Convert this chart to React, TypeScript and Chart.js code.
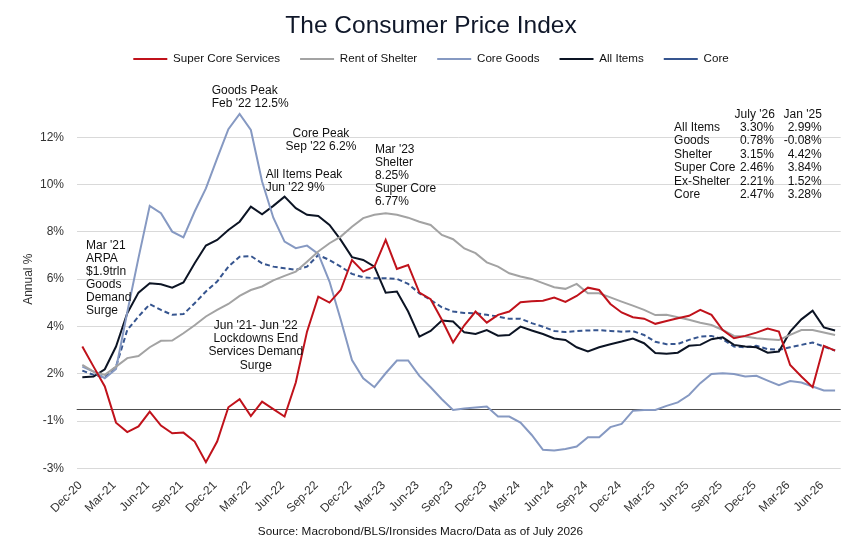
import React, { useEffect, useRef } from 'react';
import { Chart, registerables } from 'chart.js';

Chart.register(...registerables);

// ---------- data ----------
const MONTH_ABBR = ['Jan', 'Feb', 'Mar', 'Apr', 'May', 'Jun', 'Jul', 'Aug', 'Sep', 'Oct', 'Nov', 'Dec'];
const FIRST_YEAR = 2020;
const FIRST_MONTH = 11; // Dec
const LABEL_STEP = 3;

const SUPER_CORE = [
  3.15, 2.3, 1.46, -0.07, -0.47, -0.23, 0.4, -0.19, -0.52, -0.49,
  -0.87, -1.74, -0.87, 0.58, 0.92, 0.21, 0.82, 0.5, 0.19, 1.63,
  3.78, 5.26, 5.01, 5.54, 6.81, 6.32, 6.53, 7.66, 6.43, 6.6,
  5.43, 5.15, 4.28, 3.32, 4.05, 4.63, 4.16, 4.49, 4.63, 5.02,
  5.07, 5.09, 5.22, 5.04, 5.29, 5.64, 5.54, 4.95, 4.59, 4.39,
  4.33, 4.11, 4.23, 4.35, 4.45, 4.7, 4.49, 3.85, 3.5, 3.6,
  3.74, 3.91, 3.78, 2.37, 1.88, 1.43, 3.18, 2.98,
];
const RENT_OF_SHELTER = [
  2.37, 2.09, 1.95, 2.3, 2.66, 2.75, 3.12, 3.39, 3.4, 3.71,
  4.05, 4.42, 4.7, 4.95, 5.29, 5.54, 5.69, 5.95, 6.14, 6.32,
  6.74, 7.17, 7.52, 7.8, 8.22, 8.58, 8.72, 8.79, 8.72, 8.6,
  8.43, 8.29, 7.87, 7.69, 7.3, 7.1, 6.71, 6.53, 6.25, 6.11,
  6.01, 5.83, 5.66, 5.59, 5.8, 5.4, 5.4, 5.23, 5.05, 4.88,
  4.7, 4.48, 4.49, 4.39, 4.28, 4.16, 4.06, 3.85, 3.6, 3.57,
  3.5, 3.46, 3.43, 3.64, 3.85, 3.85, 3.74, 3.64,
];
const CORE_GOODS = [
  2.3, 2.09, 1.81, 2.2, 4.6, 6.9, 9.1, 8.79, 8.01, 7.77,
  8.86, 9.84, 11.11, 12.34, 12.99, 12.31, 10.13, 8.6, 7.59, 7.31,
  7.42, 7.07, 5.9, 4.28, 2.58, 1.81, 1.43, 2.02, 2.56, 2.56,
  1.91, 1.43, 0.92, 0.47, 0.53, 0.57, 0.61, 0.19, 0.19, -0.07,
  -0.59, -1.22, -1.25, -1.18, -1.08, -0.69, -0.69, -0.26, -0.12, 0.43,
  0.47, 0.47, 0.64, 0.79, 1.1, 1.6, 1.99, 2.02, 1.99, 1.88,
  1.91, 1.71, 1.52, 1.69, 1.63, 1.46, 1.29, 1.29,
];
const ALL_ITEMS = [
  1.85, 1.88, 2.19, 3.15, 4.56, 5.43, 5.83, 5.78, 5.64, 5.86,
  6.67, 7.42, 7.66, 8.08, 8.43, 9.07, 8.74, 9.1, 9.49, 9.0,
  8.72, 8.67, 8.29, 7.66, 6.93, 6.81, 6.53, 5.43, 5.48, 4.63,
  3.57, 3.81, 4.25, 4.21, 3.75, 3.68, 3.85, 3.61, 3.64, 3.99,
  3.83, 3.68, 3.49, 3.43, 3.12, 2.94, 3.12, 3.25, 3.36, 3.49,
  3.29, 2.88, 2.84, 2.89, 3.18, 3.22, 3.46, 3.54, 3.22, 3.15,
  3.12, 2.89, 2.94, 3.78, 4.3, 4.67, 3.96, 3.83,
];
const CORE = [
  2.13, 1.95, 1.85, 2.3, 3.85, 4.42, 4.94, 4.7, 4.49, 4.52,
  4.98, 5.48, 5.9, 6.53, 6.95, 6.98, 6.67, 6.53, 6.46, 6.39,
  6.53, 7.02, 6.81, 6.53, 6.22, 6.08, 6.04, 6.04, 6.01, 5.8,
  5.4, 5.12, 4.81, 4.63, 4.57, 4.56, 4.49, 4.42, 4.32, 4.33,
  4.14, 3.99, 3.81, 3.76, 3.8, 3.83, 3.84, 3.81, 3.78, 3.8,
  3.64, 3.35, 3.25, 3.26, 3.43, 3.57, 3.6, 3.46, 3.15, 3.12,
  3.18, 3.04, 3.01, 3.12, 3.22, 3.32, 3.15, 2.98,
];

const CATEGORIES = SUPER_CORE.map((_, i) => {
  const m = (FIRST_MONTH + i) % 12;
  const y = FIRST_YEAR + Math.floor((FIRST_MONTH + i) / 12);
  return `${MONTH_ABBR[m]}-${String(y % 100).padStart(2, '0')}`;
});

const Y_TICK_VALUES = [-2, 0, 2, 4, 6, 8, 10, 12];
const Y_TICK_LABELS = ['-3%', '-1%', '2%', '4%', '6%', '8%', '10%', '12%'];
const Y_MIN = -2;
const Y_MAX = 14;
const ZERO_LINE_VALUE = 0.51;

const TITLE = 'The Consumer Price Index';
const SOURCE = 'Source: Macrobond/BLS/Ironsides Macro/Data as of July 2026';

const ANNOTATIONS = [
  { index: 11.51, value: 13.96, align: 'left', lines: ['Goods Peak', "Feb '22 12.5%"] },
  { index: 21.24, value: 12.17, align: 'center', lines: ['Core Peak', "Sep '22 6.2%"] },
  { index: 16.32, value: 10.41, align: 'left', lines: ['All Items Peak', "Jun '22 9%"] },
  { index: 26.04, value: 11.49, align: 'left', lines: ["Mar '23", 'Shelter', '8.25%', 'Super Core', '6.77%'] },
  { index: 0.33, value: 7.42, align: 'left', lines: ["Mar '21", 'ARPA', '$1.9trln', 'Goods', 'Demand', 'Surge'] },
  { index: 15.44, value: 4.02, align: 'center', lines: ["Jun '21- Jun '22", 'Lockdowns End', 'Services Demand', 'Surge'] },
];

const TABLE_HEADERS = ["July '26", "Jan '25"];
const TABLE_ROWS = ['All Items', 'Goods', 'Shelter', 'Super Core', 'Ex-Shelter', 'Core'];
const TABLE_JUL26 = ['3.30%', '0.78%', '3.15%', '2.46%', '2.21%', '2.47%'];
const TABLE_JAN25 = ['2.99%', '-0.08%', '4.42%', '3.84%', '1.52%', '3.28%'];
const TABLE_POS = {
  labelIndex: 52.67,
  headerCenters: [59.85, 64.12],
  valueRights: [61.56, 65.81],
  headerValue: 12.94,
  firstRowValue: 12.41,
};

// ---------- styles / layout ----------
const FONT = "'Liberation Sans', Arial, sans-serif";
const TEXT_COLOR = '#111111';
const LINE_GAP = 13.1;
const TABLE_GAP = 13.45;
const LEGEND_HEIGHT = 56.8;
const SOURCE_X_FRAC = 0.4912;
const SOURCE_Y = 532;

const annotationPlugin = {
  id: 'cpiAnnotations',
  beforeDatasetsDraw(chart: any) {
    const { ctx, chartArea, scales } = chart;
    const y = scales.y.getPixelForValue(ZERO_LINE_VALUE);
    ctx.save();
    ctx.strokeStyle = '#4d4d4d';
    ctx.lineWidth = 1;
    ctx.beginPath();
    ctx.moveTo(chartArea.left, Math.round(y) + 0.5);
    ctx.lineTo(chartArea.right, Math.round(y) + 0.5);
    ctx.stroke();
    ctx.restore();
  },
  afterDatasetsDraw(chart: any) {
    const { ctx, scales } = chart;
    const xs = scales.x;
    const ys = scales.y;
    ctx.save();
    ctx.font = `12px ${FONT}`;
    ctx.fillStyle = TEXT_COLOR;
    ctx.textBaseline = 'middle';
    ANNOTATIONS.forEach((a) => {
      const x = xs.getPixelForValue(a.index);
      const y0 = ys.getPixelForValue(a.value);
      ctx.textAlign = a.align;
      a.lines.forEach((line, k) => ctx.fillText(line, x, y0 + k * LINE_GAP));
    });
    // table
    const hy = ys.getPixelForValue(TABLE_POS.headerValue);
    ctx.textAlign = 'center';
    TABLE_HEADERS.forEach((h, k) => ctx.fillText(h, xs.getPixelForValue(TABLE_POS.headerCenters[k]), hy));
    const ry = ys.getPixelForValue(TABLE_POS.firstRowValue);
    const lx = xs.getPixelForValue(TABLE_POS.labelIndex);
    const c1 = xs.getPixelForValue(TABLE_POS.valueRights[0]);
    const c2 = xs.getPixelForValue(TABLE_POS.valueRights[1]);
    TABLE_ROWS.forEach((r, k) => {
      const yy = ry + k * TABLE_GAP;
      ctx.textAlign = 'left';
      ctx.fillText(r, lx, yy);
      ctx.textAlign = 'right';
      ctx.fillText(TABLE_JUL26[k], c1, yy);
      ctx.fillText(TABLE_JAN25[k], c2, yy);
    });
    ctx.restore();
  },
  afterDraw(chart: any) {
    const { ctx, width } = chart;
    ctx.save();
    ctx.font = `11.75px ${FONT}`;
    ctx.fillStyle = TEXT_COLOR;
    ctx.textAlign = 'center';
    ctx.textBaseline = 'middle';
    ctx.fillText(SOURCE, width * SOURCE_X_FRAC, SOURCE_Y);
    ctx.restore();
  },
};

const legendSpacer = {
  id: 'legendSpacer',
  beforeInit(chart: any) {
    const legend = chart.legend;
    if (!legend) return;
    const orig = legend.fit;
    legend.fit = function () {
      orig.call(this);
      this.height = LEGEND_HEIGHT;
    };
  },
};

export default function App() {
  const ref = useRef<HTMLCanvasElement>(null);
  useEffect(() => {
    document.body.style.margin = '0';
    Chart.defaults.font.family = FONT;
    const line = (label: string, data: number[], color: string, extra: any = {}) => ({
      label,
      data,
      borderColor: color,
      backgroundColor: color,
      borderWidth: 2,
      pointRadius: 0,
      pointHoverRadius: 0,
      tension: 0,
      fill: false,
      ...extra,
    });
    const chart = new Chart(ref.current as HTMLCanvasElement, {
      type: 'line',
      data: {
        labels: CATEGORIES,
        datasets: [
          line('Super Core Services', SUPER_CORE, '#c0121b'),
          line('Rent of Shelter', RENT_OF_SHELTER, '#a3a3a3'),
          line('Core Goods', CORE_GOODS, '#8699c2'),
          line('All Items', ALL_ITEMS, '#0c1424'),
          line('Core', CORE, '#36558f', { borderDash: [5, 3] }),
        ],
      },
      options: {
        responsive: false,
        animation: false,
        layout: { padding: { left: 21.3, right: 15.3, top: 0, bottom: 0 } },
        plugins: {
          title: {
            display: true,
            text: TITLE,
            color: '#0f1729',
            font: { size: 24.5, weight: 'normal', family: FONT },
            padding: { top: 12, bottom: -8.2 },
          },
          legend: {
            position: 'top',
            labels: {
              usePointStyle: true,
              pointStyle: 'line',
              pointStyleWidth: 34,
              boxWidth: 34,
              padding: 20,
              color: TEXT_COLOR,
              font: { size: 11.6, family: FONT },
            },
          },
          tooltip: { enabled: false },
        },
        scales: {
          x: {
            type: 'category',
            offset: true,
            grid: { display: false, drawTicks: false },
            border: { display: false },
            ticks: {
              autoSkip: false,
              maxRotation: 45,
              minRotation: 45,
              labelOffset: -2,
              padding: 10,
              color: '#333333',
              font: { size: 12, family: FONT },
              callback: (_v: any, i: number) => (i % LABEL_STEP === 0 ? CATEGORIES[i] : ''),
            },
            afterFit: (s: any) => {
              s.height = 89.7;
            },
          },
          y: {
            min: Y_MIN,
            max: Y_MAX,
            afterBuildTicks: (axis: any) => {
              axis.ticks = Y_TICK_VALUES.map((v) => ({ value: v }));
            },
            grid: { color: '#d9d9d9', lineWidth: 1, drawTicks: false },
            border: { display: false },
            ticks: {
              padding: 12.7,
              color: '#333333',
              font: { size: 12, family: FONT },
              callback: (v: any) => {
                const k = Y_TICK_VALUES.indexOf(Number(v));
                return k >= 0 ? Y_TICK_LABELS[k] : '';
              },
            },
            title: {
              display: true,
              text: 'Annual %',
              color: '#333333',
              font: { size: 12, family: FONT },
              padding: { top: 0, bottom: 0 },
            },
            afterFit: (s: any) => {
              s.width = 55.4;
            },
          },
        },
      },
      plugins: [annotationPlugin, legendSpacer],
    } as any);
    return () => chart.destroy();
  }, []);
  return (
    <div style={{ width: 856, height: 558, background: '#ffffff' }}>
      <canvas ref={ref} width={856} height={558} style={{ display: 'block' }} />
    </div>
  );
}
